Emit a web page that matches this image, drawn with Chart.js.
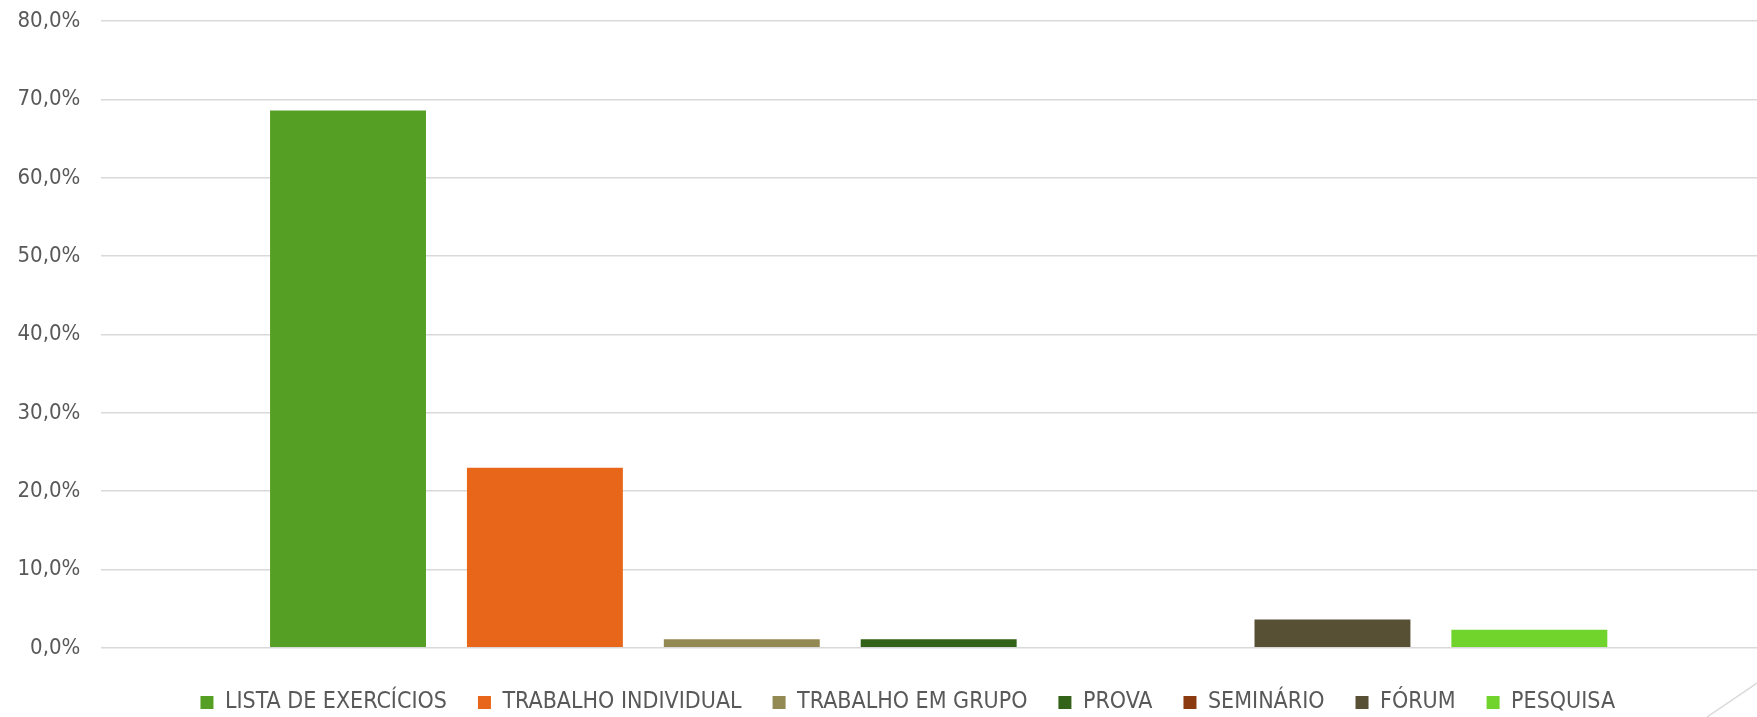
<!DOCTYPE html>
<html>
<head>
<meta charset="utf-8">
<script src="https://cdn.jsdelivr.net/npm/chart.js@4"></script>
<style>
  html, body { margin: 0; padding: 0; background: #fff; overflow: hidden; }
  #wrap { position: relative; width: 1790px; height: 724px; }
  #deco { position: absolute; left: 0; top: 0; pointer-events: none; }
</style>
</head>
<body>
<div id="wrap"><canvas id="chart"></canvas></div>
<svg id="deco" width="1757" height="717"><line x1="1757" y1="683" x2="1707" y2="717" stroke="#d9d9d9" stroke-width="1.5"/></svg>
<script>
// ── Data ─────────────────────────────────────────────
const categories = ['LISTA DE EXERCÍCIOS', 'TRABALHO INDIVIDUAL', 'TRABALHO EM GRUPO', 'PROVA', 'SEMINÁRIO', 'FÓRUM', 'PESQUISA'];
const values     = [68.6, 23.0, 1.1, 1.1, 0.0, 3.6, 2.3];
const colors     = ['#55A024', '#E8661A', '#938953', '#336219', '#8B3A0F', '#585034', '#71D42D'];
const yMax = 80, yStep = 10;

const FONT = "'Liberation Sans Narrow', 'DejaVu Sans Condensed', 'Liberation Sans', sans-serif";
const TEXT = '#595959';

// nudge the legend a bit right, like the original slide
const legendShift = {
  id: 'legendShift',
  afterLayout(chart) {
    const lg = chart.legend;
    if (lg) { lg.left += 15; lg.right += 15; }
  }
};

new Chart(document.getElementById('chart'), {
  type: 'bar',
  data: {
    labels: [''],
    datasets: categories.map((c, i) => ({
      label: c, data: [values[i]], backgroundColor: colors[i], borderWidth: 0,
      categoryPercentage: 0.823, barPercentage: 0.792
    }))
  },
  options: {
    responsive: true, maintainAspectRatio: false, animation: false,
    layout: { padding: { left: 9.5, right: 14, top: 0, bottom: 0 } },
    plugins: {
      tooltip: { enabled: false },
      legend: {
        position: 'bottom',
        labels: { boxWidth: 13, boxHeight: 13, padding: 31, color: TEXT, font: { family: FONT, size: 23 } }
      }
    },
    scales: {
      x: {
        grid: { display: false, drawTicks: false }, border: { display: false },
        ticks: { font: { size: 1 }, padding: 5.5 }
      },
      y: {
        min: 0, max: yMax,
        ticks: { stepSize: yStep, padding: 8, color: TEXT, font: { family: FONT, size: 22 },
          callback: v => v.toFixed(1).replace('.', ',') + '%' },
        grid: { color: '#d9d9d9', lineWidth: 1.5, drawTicks: true, tickLength: 13, tickColor: 'rgba(0,0,0,0)' },
        border: { display: false }
      }
    }
  },
  plugins: [legendShift]
});
</script>
</body>
</html>
